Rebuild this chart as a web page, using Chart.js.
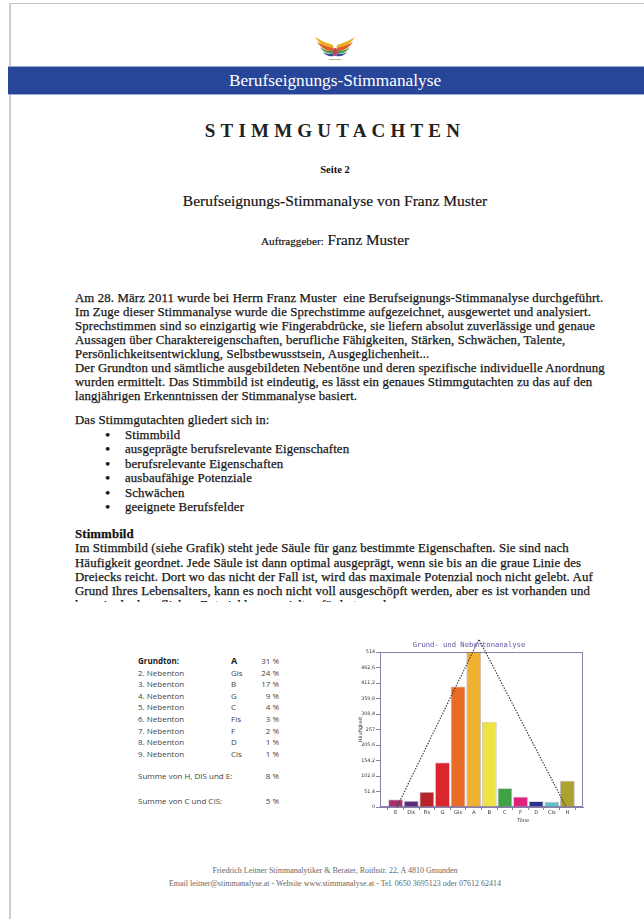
<!DOCTYPE html>
<html><head><meta charset="utf-8">
<script src="https://cdn.jsdelivr.net/npm/chart.js@4"></script>
<style>
html,body{margin:0;padding:0}
body{width:644px;height:919px;position:relative;background:#fff;overflow:hidden;font-family:"Liberation Serif","Times New Roman",serif;color:#111}
.a{position:absolute}
.c{left:0;width:670px;text-align:center;white-space:nowrap}
.t{left:75px;white-space:nowrap;font-size:12.8px;letter-spacing:0.13px;-webkit-text-stroke:0.25px #222}
.tbl{font-family:"Open Sans",sans-serif;font-size:8px;color:#444;line-height:11.6px}
.tbl div{position:absolute;white-space:nowrap}
.foot{font-size:8px;color:#666;line-height:13px}
.bl{position:relative}
.bl span.d{position:absolute;left:0;top:0;font-size:15px;line-height:14.4px}
.bl span.x{padding-left:20px}
</style></head>
<body>
<div class="a" style="left:9px;top:3px;width:635px;height:1px;background:#c6c6c6"></div>
<div class="a" style="left:9px;top:3px;width:2px;height:916px;background:#cdcdcd"></div>

<svg class="a" style="left:312px;top:35px" width="46" height="26" viewBox="0 0 46 26">
  <path d="M22 16 C16 14 8 10 3 2 C8 5 14 8 21 10 Z" fill="#e8b020"/>
  <path d="M22 17 C15 16 9 13 5 7 C10 10 15 12 21 13 Z" fill="#e05a2a"/>
  <path d="M22 19 C16 19 11 17 8 12 C12 15 16 16 21 16 Z" fill="#4a9a4a"/>
  <path d="M22 21 C17 22 13 20 11 17 C14 19 18 19 21 19 Z" fill="#3a4aa0"/>
  <path d="M24 16 C30 14 38 10 43 2 C38 5 32 8 25 10 Z" fill="#e8b020"/>
  <path d="M24 17 C31 16 37 13 41 7 C36 10 31 12 25 13 Z" fill="#e05a2a"/>
  <path d="M24 19 C30 19 35 17 38 12 C34 15 30 16 25 16 Z" fill="#4a9a4a"/>
  <path d="M24 21 C29 22 33 20 35 17 C32 19 28 19 25 19 Z" fill="#3a4aa0"/>
  <ellipse cx="23" cy="17" rx="2" ry="4" fill="#c03a6a"/>
  <rect x="17" y="24" width="12" height="1" fill="#c8b080"/>
</svg>

<div class="a" style="left:8px;top:66px;width:636px;height:1px;background:#9aaad4"></div>
<div class="a" style="left:8px;top:67px;width:636px;height:27px;background:#27469a"></div>
<div class="a" style="left:8px;top:94px;width:636px;height:1px;background:#9aaad4"></div>
<div class="a c" style="top:71px;line-height:20px;font-size:17.3px;color:#fff">Berufseignungs-Stimmanalyse</div>

<div class="a c" style="top:120px;line-height:22px;font-size:19px;font-weight:bold;letter-spacing:5.2px;color:#222">STIMMGUTACHTEN</div>
<div class="a c" style="top:163px;line-height:14px;font-size:10.5px;font-weight:bold">Seite 2</div>
<div class="a c" style="top:192px;line-height:18px;font-size:15.5px;-webkit-text-stroke:0.2px #222">Berufseignungs-Stimmanalyse von Franz Muster</div>
<div class="a c" style="top:231px;line-height:18px;font-size:15.2px;-webkit-text-stroke:0.2px #222"><span style="font-size:11.2px">Auftraggeber:</span> Franz Muster</div>

<div class="a t" style="top:291px;line-height:14px">Am 28. März 2011 wurde bei Herrn Franz Muster&nbsp; eine Berufseignungs-Stimmanalyse durchgeführt.<br>Im Zuge dieser Stimmanalyse wurde die Sprechstimme aufgezeichnet, ausgewertet und analysiert.<br>Sprechstimmen sind so einzigartig wie Fingerabdrücke, sie liefern absolut zuverlässige und genaue<br>Aussagen über Charaktereigenschaften, berufliche Fähigkeiten, Stärken, Schwächen, Talente,<br>Persönlichkeitsentwicklung, Selbstbewusstsein, Ausgeglichenheit...<br>Der Grundton und sämtliche ausgebildeten Nebentöne und deren spezifische individuelle Anordnung<br>wurden ermittelt. Das Stimmbild ist eindeutig, es lässt ein genaues Stimmgutachten zu das auf den<br>langjährigen Erkenntnissen der Stimmanalyse basiert.</div>

<div class="a t" style="top:413px;line-height:14px">Das Stimmgutachten gliedert sich in:</div>
<div class="a t" style="top:428px;line-height:14.4px;left:105px">
<div class="bl"><span class="d">•</span><span class="x">Stimmbild</span></div>
<div class="bl"><span class="d">•</span><span class="x">ausgeprägte berufsrelevante Eigenschaften</span></div>
<div class="bl"><span class="d">•</span><span class="x">berufsrelevante Eigenschaften</span></div>
<div class="bl"><span class="d">•</span><span class="x">ausbaufähige Potenziale</span></div>
<div class="bl"><span class="d">•</span><span class="x">Schwächen</span></div>
<div class="bl"><span class="d">•</span><span class="x">geeignete Berufsfelder</span></div>
</div>

<div class="a t" style="top:527px;line-height:14.25px"><b>Stimmbild</b><br>Im Stimmbild (siehe Grafik) steht jede Säule für ganz bestimmte Eigenschaften. Sie sind nach<br>Häufigkeit geordnet. Jede Säule ist dann optimal ausgeprägt, wenn sie bis an die graue Linie des<br>Dreiecks reicht. Dort wo das nicht der Fall ist, wird das maximale Potenzial noch nicht gelebt. Auf<br>Grund Ihres Lebensalters, kann es noch nicht voll ausgeschöpft werden, aber es ist vorhanden und</div>
<div class="a t" style="top:598px;height:4px;overflow:hidden"><div style="line-height:14px">kann in der beruflichen Entwicklung gezielt gefördert werden.</div></div>

<div class="a tbl" id="tbl" style="left:0;top:0"></div>

<canvas id="chart" class="a" style="left:355px;top:636px" width="236" height="196"></canvas>

<div class="a c foot" style="top:864px">Friedrich Leitner Stimmanalytiker &amp; Berater, Roithstr. 22, A 4810 Gmunden<br>Email leitner@stimmanalyse.at - Website www.stimmanalyse.at - Tel. 0650 3695123 oder 07612 62414</div>

<script>
// ---- data ----
const categories = ['E','Dis','Fis','G','Gis','A','B','C','F','D','Cis','H'];
const values = [25, 20, 50, 148, 400, 514, 283, 62, 34, 19, 17, 87];
const barColors = ['#a4306e','#5a2c78','#b82529','#d9272d','#e86c25','#efb12f','#eee247','#3fa346','#e0247c','#2b3388','#5ac3c9','#ada12f'];
const yTicks = [0, 51.4, 102.8, 154.2, 205.6, 257, 308.4, 359.8, 411.2, 462.6, 514];
const yTickLabels = ['0','51,4','102,8','154,2','205,6','257','308,4','359,8','411,2','462,6','514'];
const triangleX = [0, 0.485, 1];
const triangleY = [0, 556, 0];

const toneRows = ['Grundton:','2. Nebenton','3. Nebenton','4. Nebenton','5. Nebenton','6. Nebenton','7. Nebenton','8. Nebenton','9. Nebenton'];
const toneNames = ['A','Gis','B','G','C','Fis','F','D','Cis'];
const tonePercents = [31, 24, 17, 9, 4, 3, 2, 1, 1];
const sumLabels = ['Summe von H, DIS und E:','Summe von C und CIS:'];
const sumPercents = [8, 5];

// ---- table ----
const tbl = document.getElementById('tbl');
let html = '';
toneRows.forEach((r,i)=>{
  const y = 655 + i*11.6;
  const b = i===0 ? 'font-weight:bold;color:#222;' : '';
  html += `<div style="left:138px;top:${y}px;${b}">${r}</div>`;
  html += `<div style="left:231px;top:${y}px;${b}${i===0?'font-size:9px;':''}">${toneNames[i]}</div>`;
  html += `<div style="left:240px;width:39px;text-align:right;top:${y}px">${tonePercents[i]} %</div>`;
});
sumLabels.forEach((s,i)=>{
  const y = 770 + i*25;
  html += `<div style="left:138px;top:${y}px">${s}</div>`;
  html += `<div style="left:240px;width:39px;text-align:right;top:${y}px">${sumPercents[i]} %</div>`;
});
tbl.innerHTML = html;

// ---- chart ----
const labels = ['', ...categories, ''];
const barData = [null, ...values, null];
const bgColors = ['#fff', ...barColors, '#fff'];

const framePlugin = {
  id:'frame',
  beforeDatasetsDraw(chart){
    const {ctx, chartArea:a} = chart;
    ctx.save();
    ctx.strokeStyle = '#8a7fa8';
    ctx.lineWidth = 1;
    ctx.strokeRect(a.left+0.5, a.top+0.5, a.right-a.left-1, a.bottom-a.top-1);
    ctx.restore();
  }
};
const toneTitle = {
  id:'toneTitle',
  afterDraw(chart){
    const {ctx, chartArea:a} = chart;
    ctx.save();
    ctx.fillStyle = '#333';
    ctx.font = '5px "DejaVu Sans"';
    ctx.textAlign = 'center';
    ctx.textBaseline = 'middle';
    ctx.fillText('Töne', a.left + (a.right-a.left)*0.705, a.bottom + 14);
    ctx.restore();
  }
};

new Chart(document.getElementById('chart'), {
  type:'bar',
  data:{
    labels,
    datasets:[
      {type:'bar', data:barData, backgroundColor:bgColors, borderColor:'rgba(70,40,70,0.35)', borderWidth:0.8,
       grouped:false, barPercentage:0.94, categoryPercentage:1, order:2},
      {type:'line', xAxisID:'xl', data:triangleX.map((x,i)=>({x, y:triangleY[i]})),
       borderColor:'#3a3a3a', borderWidth:1.2, borderDash:[1.4,1.4], pointRadius:0, fill:false, clip:false, tension:0, order:1}
    ]
  },
  options:{
    responsive:false, animation:false, devicePixelRatio:1,
    layout:{padding:{left:0, right:8, top:0, bottom:0}},
    plugins:{
      legend:{display:false}, tooltip:{enabled:false},
      title:{display:true, text:'Grund- und Nebentonanalyse', color:'#5d58a0',
        font:{family:'DejaVu Sans Mono', size:7.2, weight:'normal'}, padding:{top:5, bottom:2.4}}
    },
    scales:{
      x:{type:'category', offset:false,
        grid:{drawOnChartArea:false, drawTicks:true, tickLength:3, color:'#8a7fa8'},
        border:{display:true, color:'#8a7fa8'},
        ticks:{font:{size:5.2, family:'DejaVu Sans'}, color:'#333', autoSkip:false, maxRotation:0, padding:0},
        afterFit(s){ s.height = 25; }
      },
      xl:{type:'linear', axis:'x', display:false, min:0, max:1},
      y:{min:0, max:514,
        afterBuildTicks(s){ s.ticks = yTicks.map(v=>({value:v})); },
        ticks:{callback:(v,i)=>yTickLabels[i], font:{size:4.8, family:'DejaVu Sans'}, color:'#333', padding:1},
        grid:{drawOnChartArea:false, drawTicks:true, tickLength:4, color:'#8a7fa8'},
        border:{display:true, color:'#8a7fa8'},
        title:{display:true, text:'Häufigkeit', font:{size:5, family:'DejaVu Sans'}, color:'#333', padding:{top:3, bottom:0}},
        afterFit(s){ s.width = 25; }
      }
    }
  },
  plugins:[framePlugin, toneTitle]
});
</script>
</body></html>
